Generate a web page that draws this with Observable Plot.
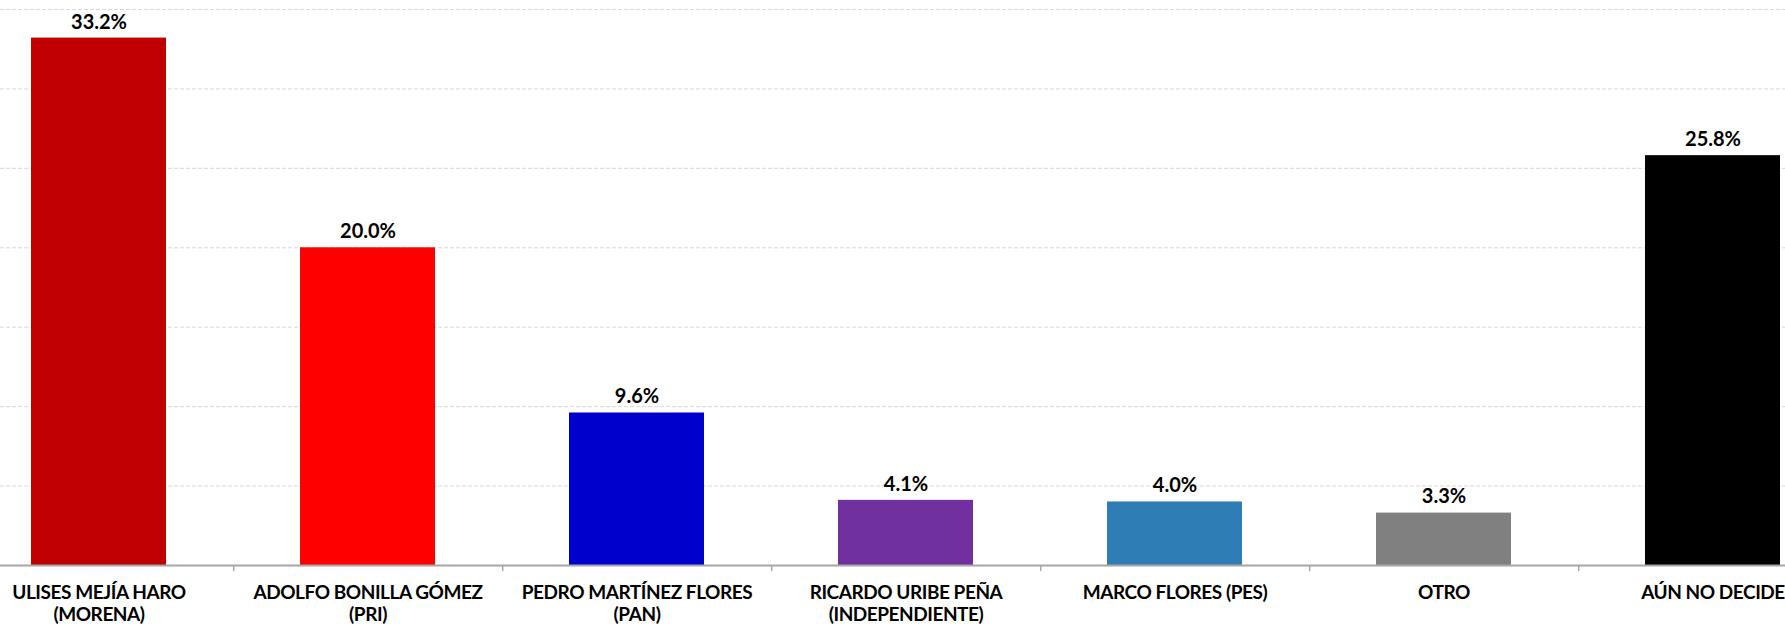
<!DOCTYPE html>
<html>
<head>
<meta charset="utf-8">
<script src="https://cdn.jsdelivr.net/npm/d3@7"></script>
<script src="https://cdn.jsdelivr.net/npm/@observablehq/plot@0.6"></script>
<style>
  html, body { margin: 0; padding: 0; background: #fff; }
  #chart svg { display: block; overflow: hidden; }
  #chart g[aria-label="x-axis tick label"] text { letter-spacing: -0.45px; }
</style>
</head>
<body>
<div id="chart"></div>
<script>
const candidates = ["ULISES MEJÍA HARO", "ADOLFO BONILLA GÓMEZ", "PEDRO MARTÍNEZ FLORES", "RICARDO URIBE PEÑA", "MARCO FLORES (PES)", "OTRO", "AÚN NO DECIDE"];
const parties = ["(MORENA)", "(PRI)", "(PAN)", "(INDEPENDIENTE)", "", "", ""];
const values = [33.2, 20.0, 9.6, 4.1, 4.0, 3.3, 25.8];
const colors = ["#C00000", "#FF0000", "#0000CC", "#7030A0", "#2E7EB5", "#808080", "#000000"];
const gridTicks = [5, 10, 15, 20, 25, 30, 35];

const data = candidates.map((c, i) => ({name: c, party: parties[i], value: values[i], color: colors[i]}));
const labelOf = new Map(data.map(d => [d.name, d.party ? d.name + "\n" + d.party : d.name]));

const W = 1785, H = 626;
const xRange = [-37.4, 1848.4];
const step = (xRange[1] - xRange[0]) / candidates.length;
const font = "Lato, 'Open Sans', sans-serif";

const chart = Plot.plot({
  width: W,
  height: H,
  marginLeft: 0,
  marginRight: 0,
  marginTop: 9,
  marginBottom: 61,
  style: {fontFamily: font, background: "#fff"},
  x: {domain: candidates, range: xRange, paddingInner: 0.5, paddingOuter: 0.25, align: 0.5},
  y: {domain: [0, 35], axis: null},
  marks: [
    Plot.gridY(gridTicks, {stroke: "#d9d9d9", strokeOpacity: 1, strokeDasharray: "4,2", strokeWidth: 1}),
    Plot.barY(data, {x: "name", y: "value", fill: "color"}),
    Plot.ruleY([0], {stroke: "#a6a6a6", strokeWidth: 2}),
    Plot.ruleX(candidates.slice(0, -1), {x: d => d, y1: 0, y2: 0, dx: step / 2, insetBottom: -6, stroke: "#a6a6a6", strokeWidth: 1.5}),
    Plot.text(data, {x: "name", y: "value", text: d => d.value.toFixed(1) + "%", dy: -16, fontSize: 20, fontWeight: "bold", fill: "#000"}),
    Plot.axisX({tickSize: 0, tickPadding: 17, fontSize: 19, fontWeight: "bold", lineHeight: 1.2, fill: "#000", tickFormat: d => labelOf.get(d), label: null})
  ]
});
document.getElementById("chart").appendChild(chart);
</script>
</body>
</html>
